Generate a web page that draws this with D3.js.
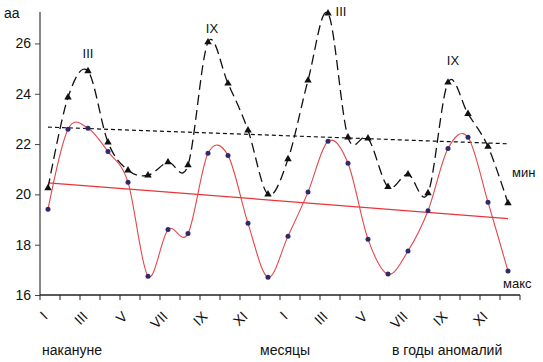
<!DOCTYPE html>
<html>
<head>
<meta charset="utf-8">
<script src="https://cdn.jsdelivr.net/npm/d3@7"></script>
<style>
  body { margin: 0; background: #fff; }
  text { font-family: "Liberation Sans", Arial, sans-serif; fill: #111; }
</style>
</head>
<body>
<div id="chart"></div>
<script>
const width = 543, height = 362;

// months (two years: before and during anomaly years)
const months = ["I","II","III","IV","V","VI","VII","VIII","IX","X","XI","XII",
                "I","II","III","IV","V","VI","VII","VIII","IX","X","XI","XII"];
const minValues = [20.25, 23.86, 24.9, 22.07, 20.96, 20.76, 21.28, 21.16, 26.05, 24.41, 22.55, 20.0,
                   21.4, 24.53, 27.2, 22.27, 22.23, 20.3, 20.8, 20.05, 24.45, 23.2, 21.9, 19.65];
const maxValues = [19.41, 22.59, 22.63, 21.7, 20.48, 16.75, 18.6, 18.44, 21.63, 21.55, 18.85, 16.71,
                   18.34, 20.09, 22.11, 21.24, 18.22, 16.83, 17.75, 19.35, 21.82, 22.27, 19.69, 16.95];
const yTicks = [16, 18, 20, 22, 24, 26];
const peakIndex = [2, 8, 14, 20];
const peakLabels = ["III", "IX", "III", "IX"];
const groupLabels = ["накануне", "месяцы", "в годы аномалий"];

const svg = d3.select("#chart").append("svg")
  .attr("width", width).attr("height", height);

const x = d3.scaleBand()
  .domain(d3.range(months.length))
  .range([40, 520]);
const px = i => x(i) + x.bandwidth() * 0.4;

const y = d3.scaleLinear()
  .domain([16, 27.25])
  .range([295, 12]);

// y axis
const yAxis = svg.append("g").attr("transform", "translate(40,0)")
  .call(d3.axisLeft(y).tickValues(yTicks).tickSize(5).tickPadding(4).tickFormat(d3.format("d")));
yAxis.select(".domain").attr("stroke", "#888").attr("stroke-width", 2).attr("d", "M0,12V295");
yAxis.selectAll(".tick line").attr("stroke", "#444");
yAxis.selectAll(".tick text").style("font-size", "14px").attr("fill", "#111");

svg.append("text").attr("x", 4).attr("y", 18).style("font-size", "14px").text("аа");

// x axis
const xAxis = svg.append("g").attr("transform", "translate(0,295)");
xAxis.append("line").attr("x1", 40).attr("x2", 520).attr("stroke", "#222").attr("stroke-width", 1.5);
xAxis.selectAll("line.tk").data(d3.range(months.length + 1)).join("line")
  .attr("class", "tk")
  .attr("x1", i => 40 + i * x.step()).attr("x2", i => 40 + i * x.step())
  .attr("y1", 0).attr("y2", 5).attr("stroke", "#222");
xAxis.selectAll("text").data(d3.range(0, months.length, 2)).join("text")
  .attr("transform", i => `translate(${px(i) - 3},19) rotate(-45)`)
  .attr("text-anchor", "end").attr("dy", "0.35em")
  .style("font-size", "14px")
  .text(i => months[i]);

// group labels
const groupX = [42, 260, 392];
svg.selectAll("text.grp").data(groupLabels).join("text")
  .attr("class", "grp")
  .attr("x", (d, i) => groupX[i]).attr("y", 355)
  .style("font-size", "14px")
  .text(d => d);

// linear trend
function trend(vals) {
  const n = vals.length, xs = d3.range(n);
  const mx = d3.mean(xs), my = d3.mean(vals);
  const b = d3.sum(xs, (v, i) => (v - mx) * (vals[i] - my)) / d3.sum(xs, v => (v - mx) ** 2);
  const a = my - b * mx;
  return [[0, a], [n - 1, a + b * (n - 1)]];
}
const straight = d3.line().x(d => px(d[0])).y(d => y(d[1]));

svg.append("path").attr("d", straight(trend(minValues)))
  .attr("fill", "none").attr("stroke", "#111").attr("stroke-width", 1.2)
  .attr("stroke-dasharray", "4,3");
svg.append("path").attr("d", straight(trend(maxValues)))
  .attr("fill", "none").attr("stroke", "#e8353a").attr("stroke-width", 1.3);

// smoothed series
const smooth = d3.line().x((d, i) => px(i)).y(d => y(d)).curve(d3.curveCatmullRom.alpha(0));

svg.append("path").attr("d", smooth(maxValues))
  .attr("fill", "none").attr("stroke", "#e4474a").attr("stroke-width", 1.1);
svg.append("path").attr("d", smooth(minValues))
  .attr("fill", "none").attr("stroke", "#111").attr("stroke-width", 1.3)
  .attr("stroke-dasharray", "10,5");

svg.selectAll("path.tri").data(minValues).join("path")
  .attr("class", "tri")
  .attr("transform", (d, i) => `translate(${px(i)},${y(d)})`)
  .attr("d", d3.symbol(d3.symbolTriangle, 24))
  .attr("fill", "#111");
svg.selectAll("circle.dot").data(maxValues).join("circle")
  .attr("class", "dot")
  .attr("cx", (d, i) => px(i)).attr("cy", d => y(d)).attr("r", 2.5)
  .attr("fill", "#2e2a6e");

// peak month labels
const peakOffset = [[0, -18], [4, -14], [13, -2], [5, -22]];
svg.selectAll("text.peak").data(peakIndex).join("text")
  .attr("class", "peak")
  .attr("x", (d, i) => px(d) + peakOffset[i][0])
  .attr("y", (d, i) => y(minValues[d]) + peakOffset[i][1])
  .attr("text-anchor", "middle").attr("dy", "0.35em")
  .style("font-size", "13px")
  .text((d, i) => peakLabels[i]);

// series labels
svg.append("text").attr("x", 512).attr("y", 177).style("font-size", "13px").text("мин");
svg.append("text").attr("x", 503).attr("y", 288).style("font-size", "13px").text("макс");
</script>
</body>
</html>
